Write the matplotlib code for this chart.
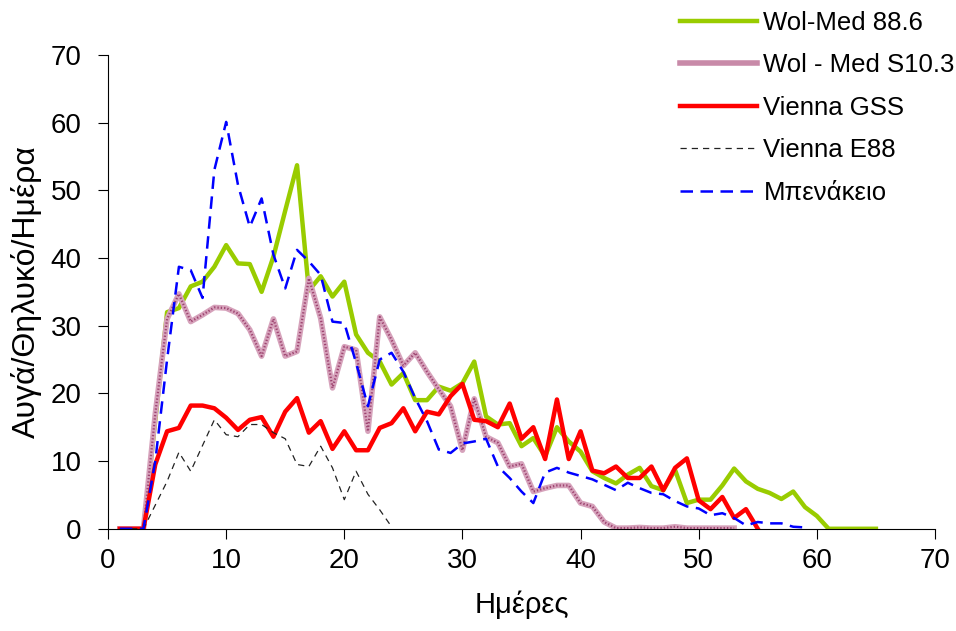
import matplotlib
matplotlib.use("Agg")
import matplotlib.pyplot as plt
import matplotlib.lines as mlines

plt.rcParams["font.family"] = ["Liberation Sans", "DejaVu Sans"]

days = list(range(1, 66))

wol_med_886 = [0, 0, 0, 16, 32, 32.6, 35.8, 36.5, 38.7, 41.9,
               39.2, 39.1, 35.0, 40.2, 47, 53.7, 35.2, 37.3, 34.3, 36.5,
               28.7, 26.0, 24.7, 21.3, 23.0, 19.0, 19.0, 21.0, 20.4, 21.5,
               24.7, 16.6, 15.4, 15.6, 12.2, 13.4, 10.7, 15.0, 12.9, 11.4,
               8.5, 7.5, 6.7, 8.0, 9.0, 6.3, 5.7, 8.7, 3.8, 4.3,
               4.3, 6.4, 8.9, 7.0, 5.9, 5.3, 4.4, 5.5, 3.2, 1.9,
               0, 0, 0, 0, 0]

wol_med_s103 = [0, 0, 0, 17, 31, 34.7, 30.6, 31.6, 32.7, 32.6,
                31.8, 29.4, 25.5, 31.0, 25.5, 26.2, 37.0, 31.1, 20.8, 26.9,
                26.4, 14.4, 31.3, 27.9, 24.1, 26.0, 23.2, 20.6, 18.1, 11.6,
                19.2, 13.6, 12.7, 9.2, 9.6, 5.5, 6.0, 6.4, 6.4, 3.8,
                3.3, 1.0, 0.1, 0.1, 0.2, 0.1, 0.1, 0.3, 0.1, 0.1,
                0.1, 0.1, 0.1]

vienna_gss = [0, 0, 0, 9.5, 14.4, 14.9, 18.2, 18.2, 17.8, 16.4,
              14.6, 16.1, 16.5, 13.6, 17.3, 19.3, 14.2, 15.9, 11.8, 14.4,
              11.6, 11.6, 14.9, 15.6, 17.8, 14.4, 17.3, 16.9, 19.6, 21.4,
              16.1, 15.9, 15.0, 18.5, 13.3, 15.0, 10.3, 19.1, 10.3, 14.4,
              8.6, 8.2, 9.2, 7.5, 7.5, 9.2, 5.7, 9.0, 10.4, 4.2,
              2.9, 4.7, 1.6, 2.9, 0]

vienna_e88 = [0, 0, 0, 3.5, 7, 11.3, 8.5, 12.3, 16.1, 13.9,
              13.6, 15.4, 15.4, 14.2, 13.3, 9.5, 9.2, 12.2, 9.0, 4.3,
              8.5, 5.1, 2.8, 0.3]

benakeio = [0, 0, 0, 10, 25, 38.7, 38.2, 34.1, 53, 60.1,
            50.8, 44.6, 48.8, 40.5, 35.5, 41.2, 39.5, 37.5, 30.6, 30.4,
            24.5, 18.1, 25.0, 26.0, 23.2, 19.3, 15.9, 11.7, 11.2, 12.6,
            12.9, 13.3, 9.2, 7.5, 5.5, 3.8, 8.3, 9.0, 8.3, 7.8,
            7.3, 6.5, 5.7, 6.8, 6.0, 5.3, 5.1, 4.1, 3.3, 3.0,
            2.0, 2.3, 1.6, 0.5, 1.0, 0.8, 0.8, 0.3, 0.2]

fig = plt.figure(figsize=(9.56, 6.31), dpi=100)
ax = fig.add_axes([0.113, 0.162, 0.865, 0.751])

ax.plot(days[:len(wol_med_886)], wol_med_886, color="#99cc00", lw=3.2,
        label="Wol-Med 88.6")
# textured pink line: light base with darker dotted pattern on top
ax.plot(days[:len(wol_med_s103)], wol_med_s103, color="#d6a2bb", lw=4)
ax.plot(days[:len(wol_med_s103)], wol_med_s103, color="#9e4470", lw=1.6,
        ls=(0, (0.6, 0.9)))
ax.plot(days[:len(vienna_gss)], vienna_gss, color="#ff0000", lw=3.2,
        label="Vienna GSS")
ax.plot(days[:len(vienna_e88)], vienna_e88, color="#222222", lw=0.9,
        ls=(0, (5, 4)), label="Vienna E88")
ax.plot(days[:len(benakeio)], benakeio, color="#0000ff", lw=1.8,
        ls=(0, (5, 3)), label="Μπενάκειο")

ax.set_xlim(0, 70)
ax.set_ylim(0, 70)
ax.set_xticks(range(0, 71, 10))
ax.set_yticks(range(0, 71, 10))
ax.spines["top"].set_visible(False)
ax.spines["right"].set_visible(False)
ax.tick_params(axis="y", direction="out", length=7, labelsize=20, pad=12)
ax.tick_params(axis="x", direction="out", length=7, labelsize=20, pad=7)
ax.set_xlabel("Ημέρες", fontsize=21, labelpad=12)
ax.set_ylabel("Αυγά/Θηλυκό/Ημέρα", fontsize=23, labelpad=6)

pink_proxy = mlines.Line2D([], [], color="#c88aa8", lw=4)
handles, labels = ax.get_legend_handles_labels()
handles.insert(1, pink_proxy)
labels.insert(1, "Wol - Med S10.3")
fig.legend(handles, labels, loc="upper left", bbox_to_anchor=(0.687, 1.02),
           frameon=False, fontsize=18.5, handlelength=3.0, handletextpad=0.25,
           labelspacing=0.72)

fig.savefig("out.png", dpi=100)
